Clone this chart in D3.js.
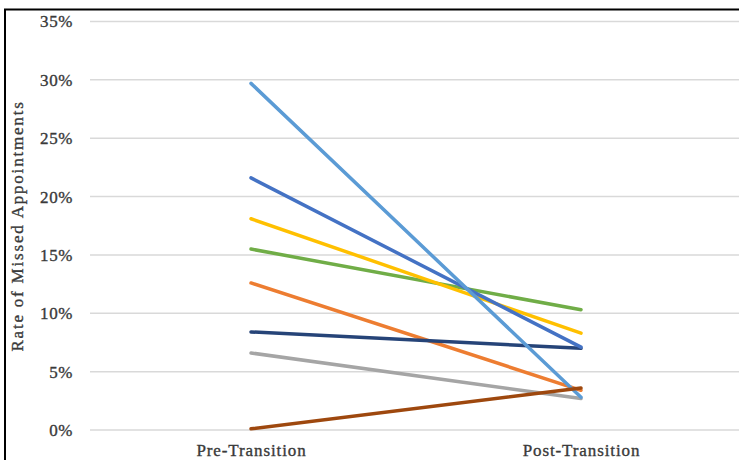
<!DOCTYPE html>
<html><head><meta charset="utf-8">
<script src="https://cdn.jsdelivr.net/npm/d3@7"></script>
<style>html,body{margin:0;padding:0;background:#fff;overflow:hidden}</style>
</head><body>
<svg id="c" width="739" height="460"></svg>
<script>
const categories = ["Pre-Transition", "Post-Transition"];
const seriesNames = ["S1","S2","S3","S4","S5","S6","S7","S8"];
const seriesColors = ["#A5A5A5","#ED7D31","#70AD47","#FFC000","#264478","#4472C4","#5B9BD5","#9E480E"];
const preValues  = [0.066, 0.126, 0.155, 0.181, 0.084, 0.216, 0.297, 0.001];
const postValues = [0.027, 0.034, 0.103, 0.083, 0.070, 0.071, 0.028, 0.036];
const yTicks = [0, 0.05, 0.10, 0.15, 0.20, 0.25, 0.30, 0.35];
const yTitle = "Rate of Missed Appointments";

const svg = d3.select("#c");
svg.append("rect").attr("x",5).attr("y",9.5).attr("width",760).attr("height",470)
  .attr("fill","#fff").attr("stroke","#000").attr("stroke-width",2);

const x = d3.scalePoint().domain(categories).range([86, 746]).padding(0.5);
const y = d3.scaleLinear().domain([0, 0.35]).range([430, 21.5]);

function styleText(sel, ls){
  sel.attr("font-family","Liberation Serif, serif").attr("font-size",17)
    .attr("fill","#3a3a3a").attr("stroke","#3a3a3a").attr("stroke-width",0.35)
    .attr("letter-spacing", ls);
}

const yAxis = d3.axisLeft(y).tickValues(yTicks).tickFormat(d3.format(".0%")).tickSize(0).tickPadding(17);
const gy = svg.append("g").attr("transform","translate(90,0)").call(yAxis);
gy.select(".domain").remove();
styleText(gy.selectAll("text"), 0.6);

svg.append("g").selectAll("line").data(yTicks).join("line")
  .attr("x1",90).attr("x2",739).attr("y1",d=>y(d)).attr("y2",d=>y(d))
  .attr("stroke","#d9d9d9").attr("stroke-width",1.5);

const xAxis = d3.axisBottom(x).tickSize(0).tickPadding(0);
const gx = svg.append("g").attr("transform","translate(0,444)").call(xAxis);
gx.select(".domain").remove();
styleText(gx.selectAll("text"), 0.9);

const t = svg.append("text").attr("transform","translate(23,226) rotate(-90)")
  .attr("text-anchor","middle").text(yTitle);
styleText(t, 1.8);

const line = d3.line().x(d=>x(d.c)).y(d=>y(d.v));
seriesNames.forEach((s,i)=>{
  svg.append("path")
    .datum([{c:categories[0],v:preValues[i]},{c:categories[1],v:postValues[i]}])
    .attr("d", line).attr("fill","none").attr("stroke",seriesColors[i])
    .attr("stroke-width",3.5).attr("stroke-linecap","round");
});
</script>
</body></html>
